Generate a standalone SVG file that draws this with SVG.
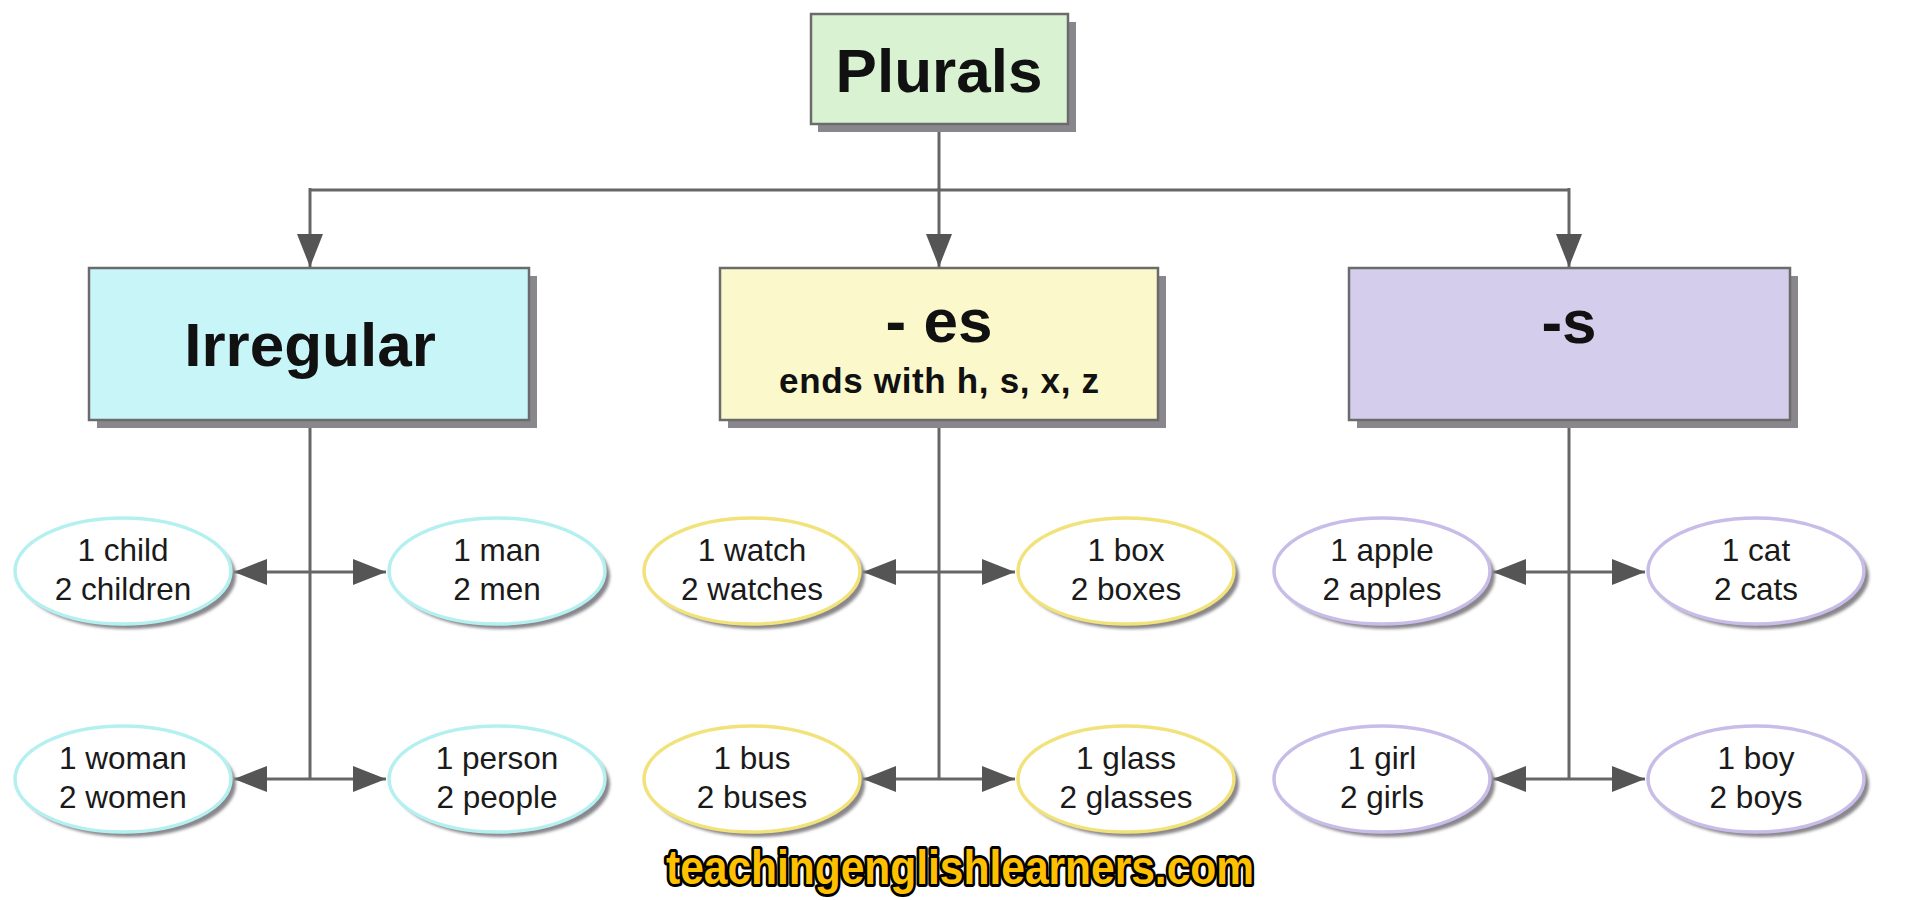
<svg xmlns="http://www.w3.org/2000/svg" width="1920" height="900" viewBox="0 0 1920 900">
<defs>
<style>
.bg{fill:#ffffff}
.box{stroke:#6b6b6b;stroke-width:2.5}
.bsh{fill:#8a878c}
.esh{fill:#8a878c;filter:url(#blur)}
.ell{fill:#ffffff;stroke-width:3.5}
.cy{stroke:#b4f0f0}
.ye{stroke:#f2e27a}
.li{stroke:#c8bce8}
.t1{font-family:"Liberation Sans",Arial,sans-serif;font-weight:bold;font-size:62px;fill:#111;text-anchor:middle}
.t2{font-family:"Liberation Sans",Arial,sans-serif;font-weight:bold;font-size:35px;fill:#111;text-anchor:middle}
.te{font-family:"Liberation Sans",Arial,sans-serif;font-size:31.5px;fill:#1a1a1a;text-anchor:middle}
.ln{fill:none;stroke:#666;stroke-width:3}
.ar{fill:none;stroke:#666;stroke-width:3;marker-end:url(#ah)}
.wm{font-family:"Liberation Sans",Arial,sans-serif;font-weight:bold;font-size:48px;fill:#ffc000;stroke:#000;stroke-width:6;paint-order:stroke;stroke-linejoin:round}
</style>
<filter id="blur" x="-10%" y="-10%" width="120%" height="120%"><feGaussianBlur stdDeviation="1.5"/></filter>
<marker id="ah" markerUnits="userSpaceOnUse" markerWidth="34" markerHeight="28" refX="33" refY="13" orient="auto">
<path d="M0,0 L33,13 L0,26 Z" fill="#555"/>
</marker>
</defs>
<rect class="bg" x="0" y="0" width="1920" height="900"/>

<g id="connectors">
<path class="ln" d="M939,124 V190 M310,190 H1569"/>
<path class="ar" d="M939,188 V267"/>
<path class="ar" d="M310,188 V267"/>
<path class="ar" d="M1569,188 V267"/>
<path class="ln" d="M310,420 V779 M939,420 V779 M1569,420 V779"/>
<path class="ar" d="M310,572 H234"/>
<path class="ar" d="M310,572 H386"/>
<path class="ar" d="M310,779 H234"/>
<path class="ar" d="M310,779 H386"/>
<path class="ar" d="M939,572 H863"/>
<path class="ar" d="M939,572 H1015"/>
<path class="ar" d="M939,779 H863"/>
<path class="ar" d="M939,779 H1015"/>
<path class="ar" d="M1569,572 H1493"/>
<path class="ar" d="M1569,572 H1645"/>
<path class="ar" d="M1569,779 H1493"/>
<path class="ar" d="M1569,779 H1645"/>
</g>

<g id="plurals">
<rect class="bsh" x="818" y="22" width="258" height="110"/>
<rect class="box" x="811" y="14" width="257" height="110" fill="#d8f2d2"/>
<text class="t1" x="939" y="92">Plurals</text>
</g>

<g id="irregular">
<rect class="bsh" x="97" y="276" width="440" height="152"/>
<rect class="box" x="89" y="268" width="440" height="152" fill="#c8f6f8"/>
<text class="t1" x="310" y="366">Irregular</text>
</g>

<g id="es">
<rect class="bsh" x="728" y="276" width="438" height="152"/>
<rect class="box" x="720" y="268" width="438" height="152" fill="#fbf8cc"/>
<text class="t1" x="939" y="342">- es</text>
<text class="t2" x="939" y="393" textLength="320" lengthAdjust="spacing">ends with h, s, x, z</text>
</g>

<g id="s">
<rect class="bsh" x="1357" y="276" width="441" height="152"/>
<rect class="box" x="1349" y="268" width="441" height="152" fill="#d4cdec"/>
<text class="t1" x="1569" y="343">-s</text>
</g>

<g id="child">
<ellipse class="esh" cx="128" cy="576" rx="108" ry="53"/>
<ellipse class="ell cy" cx="123" cy="571" rx="108" ry="53"/>
<text class="te" x="123" y="561">1 child</text>
<text class="te" x="123" y="600">2 children</text>
</g>
<g id="man">
<ellipse class="esh" cx="502" cy="576" rx="108" ry="53"/>
<ellipse class="ell cy" cx="497" cy="571" rx="108" ry="53"/>
<text class="te" x="497" y="561">1 man</text>
<text class="te" x="497" y="600">2 men</text>
</g>
<g id="woman">
<ellipse class="esh" cx="128" cy="784" rx="108" ry="53"/>
<ellipse class="ell cy" cx="123" cy="779" rx="108" ry="53"/>
<text class="te" x="123" y="769">1 woman</text>
<text class="te" x="123" y="808">2 women</text>
</g>
<g id="person">
<ellipse class="esh" cx="502" cy="784" rx="108" ry="53"/>
<ellipse class="ell cy" cx="497" cy="779" rx="108" ry="53"/>
<text class="te" x="497" y="769">1 person</text>
<text class="te" x="497" y="808">2 people</text>
</g>

<g id="watch">
<ellipse class="esh" cx="757" cy="576" rx="108" ry="53"/>
<ellipse class="ell ye" cx="752" cy="571" rx="108" ry="53"/>
<text class="te" x="752" y="561">1 watch</text>
<text class="te" x="752" y="600">2 watches</text>
</g>
<g id="box">
<ellipse class="esh" cx="1131" cy="576" rx="108" ry="53"/>
<ellipse class="ell ye" cx="1126" cy="571" rx="108" ry="53"/>
<text class="te" x="1126" y="561">1 box</text>
<text class="te" x="1126" y="600">2 boxes</text>
</g>
<g id="bus">
<ellipse class="esh" cx="757" cy="784" rx="108" ry="53"/>
<ellipse class="ell ye" cx="752" cy="779" rx="108" ry="53"/>
<text class="te" x="752" y="769">1 bus</text>
<text class="te" x="752" y="808">2 buses</text>
</g>
<g id="glass">
<ellipse class="esh" cx="1131" cy="784" rx="108" ry="53"/>
<ellipse class="ell ye" cx="1126" cy="779" rx="108" ry="53"/>
<text class="te" x="1126" y="769">1 glass</text>
<text class="te" x="1126" y="808">2 glasses</text>
</g>

<g id="apple">
<ellipse class="esh" cx="1387" cy="576" rx="108" ry="53"/>
<ellipse class="ell li" cx="1382" cy="571" rx="108" ry="53"/>
<text class="te" x="1382" y="561">1 apple</text>
<text class="te" x="1382" y="600">2 apples</text>
</g>
<g id="cat">
<ellipse class="esh" cx="1761" cy="576" rx="108" ry="53"/>
<ellipse class="ell li" cx="1756" cy="571" rx="108" ry="53"/>
<text class="te" x="1756" y="561">1 cat</text>
<text class="te" x="1756" y="600">2 cats</text>
</g>
<g id="girl">
<ellipse class="esh" cx="1387" cy="784" rx="108" ry="53"/>
<ellipse class="ell li" cx="1382" cy="779" rx="108" ry="53"/>
<text class="te" x="1382" y="769">1 girl</text>
<text class="te" x="1382" y="808">2 girls</text>
</g>
<g id="boy">
<ellipse class="esh" cx="1761" cy="784" rx="108" ry="53"/>
<ellipse class="ell li" cx="1756" cy="779" rx="108" ry="53"/>
<text class="te" x="1756" y="769">1 boy</text>
<text class="te" x="1756" y="808">2 boys</text>
</g>

<text class="wm" x="960" y="884" text-anchor="middle" textLength="588" lengthAdjust="spacingAndGlyphs">teachingenglishlearners.com</text>
</svg>
